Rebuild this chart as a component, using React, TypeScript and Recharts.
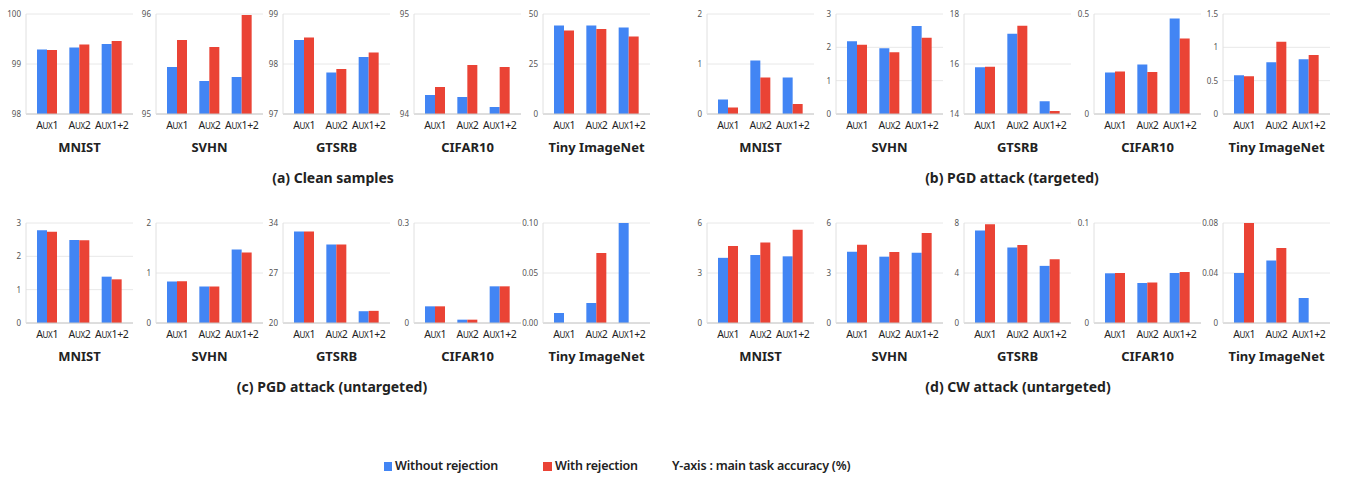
import { BarChart, Bar, XAxis, YAxis, CartesianGrid } from 'recharts';

const categories = ['Aux1', 'Aux2', 'Aux1+2'];
const datasetNames = ['MNIST', 'SVHN', 'GTSRB', 'CIFAR10', 'Tiny ImageNet'];

// (a) Clean samples
const cleanWithout = [[99.29, 99.33, 99.4], [95.47, 95.33, 95.37], [98.48, 97.83, 98.14], [94.19, 94.17, 94.07], [44.2, 44.3, 43.3]];
const cleanWith = [[99.28, 99.39, 99.46], [95.74, 95.67, 95.99], [98.53, 97.9, 98.23], [94.27, 94.49, 94.47], [41.8, 42.5, 38.8]];
const cleanTicks = [['98', '99', '100'], ['95', '96'], ['97', '98', '99'], ['94', '95'], ['0', '25', '50']];

// (b) PGD attack (targeted)
const pgdTWithout = [[0.29, 1.07, 0.73], [2.18, 1.97, 2.64], [15.87, 17.21, 14.51], [0.208, 0.248, 0.478], [0.58, 0.775, 0.82]];
const pgdTWith = [[0.13, 0.73, 0.2], [2.08, 1.85, 2.29], [15.89, 17.53, 14.12], [0.213, 0.21, 0.378], [0.565, 1.085, 0.885]];
const pgdTTicks = [['0', '1', '2'], ['0', '1', '2', '3'], ['14', '16', '18'], ['0', '0.5'], ['0', '0.5', '1', '1.5']];

// (c) PGD attack (untargeted)
const pgdUWithout = [[2.78, 2.49, 1.39], [0.83, 0.73, 1.47], [32.8, 31.0, 21.65], [0.05, 0.01, 0.11], [0.01, 0.02, 0.1]];
const pgdUWith = [[2.74, 2.48, 1.31], [0.835, 0.73, 1.41], [32.8, 31.0, 21.7], [0.05, 0.01, 0.11], [0, 0.07, 0]];
const pgdUTicks = [['0', '1', '2', '3'], ['0', '1', '2'], ['20', '27', '34'], ['0', '0.3'], ['0.00', '0.05', '0.10']];

// (d) CW attack (untargeted)
const cwWithout = [[3.91, 4.08, 4.0], [4.28, 3.98, 4.22], [7.4, 6.05, 4.57], [0.0497, 0.04, 0.05], [0.04, 0.05, 0.02]];
const cwWith = [[4.62, 4.83, 5.6], [4.69, 4.26, 5.4], [7.9, 6.24, 5.1], [0.05, 0.0405, 0.051], [0.08, 0.06, 0]];
const cwTicks = [['0', '3', '6'], ['0', '3', '6'], ['0', '4', '8'], ['0', '0.1'], ['0', '0.04', '0.08']];

const BLUE = '#4285F4';
const RED = '#EA4335';
const FONT = '"Noto Sans", "Noto Sans CJK KR", sans-serif';
const LEFT_AXES = [26, 156, 283, 414, 543];
const RIGHT_AXES = [707, 836, 964, 1094, 1223];

// "Aux1" is drawn in small caps in the original, so fake it with tspans
function CategoryTick(props: any) {
  const { x, y, payload } = props;
  const label: string = payload.value;
  const head = label.slice(0, 1);
  const caps = label.slice(1, 3).toUpperCase();
  const tail = label.slice(3);
  return (
    <text x={x} y={y} dy={15} textAnchor="middle" fontSize={10.5} fill="#222" fontFamily={FONT} letterSpacing={-0.3}>
      <tspan>{head}</tspan>
      <tspan fontSize={8}>{caps}</tspan>
      <tspan>{tail}</tspan>
    </text>
  );
}

function Panel({ axisX, top, without, withRej, ticks, title }: any) {
  const data = categories.map((c, i) => ({ name: c, without: without[i], with: withRej[i] }));
  const values = ticks.map(Number);
  return (
    <div style={{ position: 'absolute', left: axisX - 24, top, width: 131, height: 160 }}>
      <BarChart width={131} height={132} data={data} margin={{ top: 10, right: 0, bottom: 0, left: 0 }} barGap={0} barSize={10}>
        <CartesianGrid vertical={false} stroke="#e8e8e8" />
        <XAxis dataKey="name" tick={<CategoryTick />} tickLine={false} tickSize={0} tickMargin={0} stroke="#c8c8c8" height={22} padding={{ left: 5, right: 5 }} interval={0} />
        <YAxis
          width={24}
          domain={[values[0], values[values.length - 1]]}
          ticks={values}
          tickFormatter={(v: number) => ticks[values.indexOf(v)]}
          tickLine={false}
          tickSize={0}
          tickMargin={5}
          stroke="#e0e0e0"
          tick={{ fontSize: 8, fill: '#555', fontFamily: FONT }}
          allowDataOverflow
          interval={0}
        />
        <Bar dataKey="without" fill={BLUE} isAnimationActive={false} />
        <Bar dataKey="with" fill={RED} isAnimationActive={false} />
      </BarChart>
      <div style={{ position: 'absolute', left: 24, top: 133, width: 107, lineHeight: '20px', textAlign: 'center', fontSize: 13, fontWeight: 700, color: '#222', whiteSpace: 'nowrap' }}>
        {title}
      </div>
    </div>
  );
}

function Group({ axes, top, without, withRej, ticks }: any) {
  return (
    <>
      {axes.map((ax: number, i: number) => (
        <Panel key={i} axisX={ax} top={top} without={without[i]} withRej={withRej[i]} ticks={ticks[i]} title={datasetNames[i]} />
      ))}
    </>
  );
}

const captionStyle = (cx: number, cy: number): any => ({
  position: 'absolute', left: cx - 200, top: cy - 11, width: 400, lineHeight: '22px', textAlign: 'center', fontSize: 14, fontWeight: 700, color: '#222',
});

const legendText: any = { position: 'absolute', top: 456, lineHeight: '20px', fontSize: 12.5, fontWeight: 600, color: '#222', letterSpacing: -0.2, whiteSpace: 'nowrap' };

export default function App() {
  return (
    <div style={{ position: 'absolute', left: 0, top: 0, width: 1349, height: 478, background: '#fff', fontFamily: FONT, overflow: 'hidden' }}>
      <Group axes={LEFT_AXES} top={4} without={cleanWithout} withRej={cleanWith} ticks={cleanTicks} />
      <Group axes={RIGHT_AXES} top={4} without={pgdTWithout} withRej={pgdTWith} ticks={pgdTTicks} />
      <Group axes={LEFT_AXES} top={213} without={pgdUWithout} withRej={pgdUWith} ticks={pgdUTicks} />
      <Group axes={RIGHT_AXES} top={213} without={cwWithout} withRej={cwWith} ticks={cwTicks} />

      <div style={captionStyle(333, 178)}>(a) Clean samples</div>
      <div style={captionStyle(1012, 178)}>(b) PGD attack (targeted)</div>
      <div style={captionStyle(332, 387)}>(c) PGD attack (untargeted)</div>
      <div style={captionStyle(1018, 387)}>(d) CW attack (untargeted)</div>

      <div style={{ position: 'absolute', left: 384, top: 462, width: 8, height: 9, background: BLUE }} />
      <div style={{ ...legendText, left: 395 }}>Without rejection</div>
      <div style={{ position: 'absolute', left: 543, top: 462, width: 9, height: 9, background: RED }} />
      <div style={{ ...legendText, left: 555 }}>With rejection</div>
      <div style={{ ...legendText, left: 672 }}>Y-axis : main task accuracy (%)</div>
    </div>
  );
}
